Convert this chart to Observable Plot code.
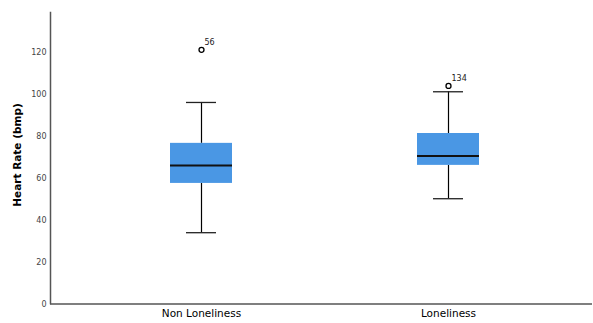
<!DOCTYPE html>
<html>
<head>
<meta charset="utf-8">
<script src="https://cdn.jsdelivr.net/npm/d3@7"></script>
<script src="https://cdn.jsdelivr.net/npm/@observablehq/plot@0.6"></script>
<style>
  body { margin: 0; background: #fff; }
  #chart svg { display: block; }
</style>
</head>
<body>
<div id="chart"></div>
<script>
const groups = ["Non Loneliness", "Loneliness"];
const q1 = [57.5, 66.1];
const median = [66.1, 70.6];
const q3 = [76.6, 81.3];
const whiskerLow = [34, 50.2];
const whiskerHigh = [96.1, 101.2];
const outlierGroup = ["Non Loneliness", "Loneliness"];
const outlierValue = [121.2, 104];
const outlierLabel = ["56", "134"];
const yTicks = [0, 20, 40, 60, 80, 100, 120];

const stats = groups.map((g, i) => ({
  group: g, q1: q1[i], median: median[i], q3: q3[i],
  lo: whiskerLow[i], hi: whiskerHigh[i]
}));
const outliers = outlierGroup.map((g, i) => ({group: g, value: outlierValue[i], label: outlierLabel[i]}));

const font = "DejaVu Sans, sans-serif";

const chart = Plot.plot({
  width: 593,
  height: 323,
  marginLeft: 50,
  marginRight: 1,
  marginTop: 12,
  marginBottom: 20,
  style: {fontFamily: font, background: "#fff"},
  x: {domain: groups, range: [53, 596], paddingInner: 0.75, paddingOuter: 0.47, label: null},
  y: {domain: [0, 139], range: [303.5, 12], label: null},
  marks: [
    Plot.axisY({ticks: yTicks, tickSize: 0, tickPadding: 4, fontSize: 8, color: "#444", label: null}),
    Plot.axisX({tickSize: 0, tickPadding: 6, fontSize: 10.5, color: "#000", label: null}),
    Plot.ruleX(stats, {x: "group", y1: "lo", y2: "q1", stroke: "#000", strokeWidth: 1.2}),
    Plot.ruleX(stats, {x: "group", y1: "q3", y2: "hi", stroke: "#000", strokeWidth: 1.2}),
    Plot.tickY(stats, {x: "group", y: "lo", stroke: "#222", strokeWidth: 1.3, insetLeft: 16, insetRight: 16}),
    Plot.tickY(stats, {x: "group", y: "hi", stroke: "#222", strokeWidth: 1.3, insetLeft: 16, insetRight: 16}),
    Plot.barY(stats, {x: "group", y1: "q1", y2: "q3", fill: "#4a97e4"}),
    Plot.tickY(stats, {x: "group", y: "median", stroke: "#111", strokeWidth: 2}),
    Plot.dot(outliers, {x: "group", y: "value", r: 2.5, stroke: "#000", strokeWidth: 1.3, fill: "#fff"}),
    Plot.text(outliers, {x: "group", y: "value", text: "label", dx: 3, dy: -7, textAnchor: "start", fontSize: 8, fill: "#222"}),
    Plot.ruleY([0], {stroke: "#555", strokeWidth: 1.5}),
    Plot.frame({anchor: "left", stroke: "#555", strokeWidth: 1.5})
  ]
});

// y-axis title
const svg = d3.select(chart);
svg.append("text")
  .attr("transform", "translate(21,155) rotate(-90)")
  .attr("text-anchor", "middle")
  .attr("font-family", font)
  .attr("font-size", 10.5)
  .attr("font-weight", "bold")
  .attr("fill", "#000")
  .text("Heart Rate (bmp)");

document.getElementById("chart").appendChild(chart);
</script>
</body>
</html>
